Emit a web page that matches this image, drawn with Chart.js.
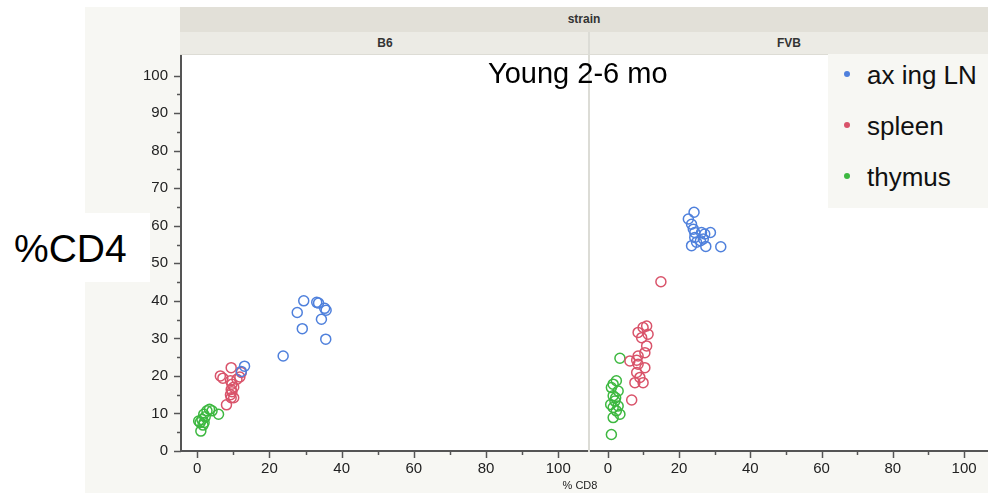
<!DOCTYPE html>
<html>
<head>
<meta charset="utf-8">
<script src="https://cdn.jsdelivr.net/npm/chart.js@4.4.1/dist/chart.umd.min.js"></script>
<style>
  html, body { margin: 0; padding: 0; background: #fff; }
  body { width: 988px; height: 493px; position: relative; overflow: hidden; font-family: 'Liberation Sans', Arial, sans-serif; }
  .abs { position: absolute; }
  #frame { left: 85px; top: 7px; width: 903px; height: 486px; background: #f7f7f3; }
  #strainBar { left: 180px; top: 7px; width: 808px; height: 25px; background: #e2e0d8; font-size: 12px; font-weight: bold; color: #333; text-align: center; line-height: 25px; }
  #panelBar { left: 180px; top: 32px; width: 808px; height: 22px; background: #ecebe5; border-bottom: 1px solid #dddcd5; }
  .plab { top: 32px; height: 22px; line-height: 22px; font-size: 12px; font-weight: bold; color: #333; text-align: center; }
  #plot { left: 181px; top: 55px; width: 807px; height: 396px; background: #fff; }
  #sep { left: 588px; top: 32px; width: 2px; height: 420px; background: #dcdcd6; }
  canvas { position: absolute; }
  #title { left: 488px; top: 57px; font-size: 29px; color: #000; white-space: nowrap; }
  #ylab { left: 0; top: 213px; width: 150px; height: 69px; background: #fff; }
  #ylab span { position: absolute; left: 14px; top: 14px; font-size: 39px; color: #000; }
  #xlab { left: 540px; top: 479px; width: 80px; text-align: center; font-size: 11px; color: #222; }
  #legend { left: 828px; top: 54px; width: 160px; height: 154px; background: #f7f7f3; }
  .item { position: absolute; left: 16px; font-size: 26px; color: #111; white-space: nowrap; }
  .dot { display: inline-block; width: 6px; height: 6px; border-radius: 3px; margin-right: 17px; vertical-align: middle; position: relative; top: -3px; }
</style>
</head>
<body>
<div class="abs" id="frame"></div>
<div class="abs" id="strainBar">strain</div>
<div class="abs" id="panelBar"></div>
<div class="abs plab" style="left:181px;width:408px;">B6</div>
<div class="abs plab" style="left:590px;width:398px;">FVB</div>
<div class="abs" id="plot"></div>
<canvas id="b6" width="505" height="438" style="left:85px;top:55px;"></canvas>
<canvas id="fvb" width="398" height="438" style="left:590px;top:55px;"></canvas>
<div class="abs" id="sep"></div>
<div class="abs" id="title">Young 2-6 mo</div>
<div class="abs" id="ylab"><span>%CD4</span></div>
<div class="abs" id="xlab">% CD8</div>
<div class="abs" id="legend">
  <div class="item" style="top:6px;"><span class="dot" style="background:#4f80dc"></span>ax ing LN</div>
  <div class="item" style="top:57px;"><span class="dot" style="background:#d9536a"></span>spleen</div>
  <div class="item" style="top:108px;"><span class="dot" style="background:#3db840"></span>thymus</div>
</div>
<script>
var tissues = ['ax ing LN', 'spleen', 'thymus'];
var colors = ['#4f80dc', '#d9536a', '#3db840'];

var xTicks = [0, 20, 40, 60, 80, 100];
var yTicks = [0, 10, 20, 30, 40, 50, 60, 70, 80, 90, 100];

// B6 strain, [%CD8, %CD4]
var b6Ln = [[29.5, 40], [27.7, 36.9], [33.1, 39.6], [33.6, 39.4], [35.3, 38.0], [35.7, 37.5],
  [34.4, 35.1], [29.1, 32.6], [35.6, 29.8], [23.8, 25.3], [13.1, 22.6], [12.2, 21.2]];
var b6Spleen = [[6.4, 20], [7.1, 19.4], [9.4, 22.2], [9.2, 18.7], [9.6, 17.8], [9.4, 16.4],
  [9.6, 15.8], [9.4, 14.2], [10.1, 14.2], [8.1, 12.3], [11.8, 19.7], [12.2, 20.9],
  [11, 19.1], [10.1, 17], [9.2, 15]];
var b6Thymus = [[1.0, 5.3], [0.8, 7.6], [1.3, 8.4], [1.8, 9.8], [2.7, 10.7], [3.4, 11.1],
  [4.1, 10.7], [5.9, 9.8], [1.9, 7.6], [0.4, 8], [2.2, 9.1], [1.6, 6.9]];

// FVB strain
var fvbLn = [[24.2, 63.6], [22.6, 61.8], [23.5, 60.4], [24.0, 59.1], [24.4, 58.2], [26.3, 58.2],
  [27.2, 57.8], [28.8, 58.2], [23.5, 54.7], [24.9, 55.6], [26.0, 56], [27.5, 54.5],
  [31.7, 54.4], [24.4, 56.9], [26.8, 56.5]];
var fvbSpleen = [[14.9, 45.1], [9.9, 32.9], [10.9, 33.3], [8.5, 31.6], [11.3, 31.1], [9.5, 30.2],
  [10.9, 28], [10.4, 26.2], [8.5, 25.3], [6.2, 24], [8.5, 23.1], [10.4, 22.2],
  [8.1, 20.9], [9, 19.6], [7.6, 18.2], [9.9, 18.2], [6.7, 13.6], [8.1, 24.2]];
var fvbThymus = [[3.4, 24.7], [2.4, 18.7], [1.5, 17.8], [1.0, 16.9], [2.9, 16], [1.5, 14.7],
  [2.0, 13.3], [2.9, 12], [1.5, 11.6], [2.4, 10.7], [3.4, 9.8], [1.5, 8.9],
  [1.0, 4.4], [2.2, 14.2], [0.8, 12.4]];

function toPoints(arr) {
  return arr.map(function(p) { return {x: p[0], y: p[1]}; });
}

function makeSets(groups) {
  return groups.map(function(g, i) {
    return {
      label: tissues[i],
      data: toPoints(g),
      borderColor: colors[i],
      backgroundColor: 'rgba(0,0,0,0)',
      pointRadius: 5,
      pointBorderWidth: 1.5,
      pointHoverRadius: 5
    };
  });
}

// minor and major tick marks, JMP style
var tickMarks = {
  id: 'tickMarks',
  afterDraw: function(chart) {
    var ctx = chart.ctx;
    ctx.save();
    ctx.strokeStyle = '#555';
    ctx.lineWidth = 1.5;
    var xs = chart.scales.x;
    for (var v = 0; v <= 100; v += 10) {
      var px = Math.round(xs.getPixelForValue(v)) + 0.5;
      var len = v % 20 === 0 ? 7 : 4;
      ctx.beginPath();
      ctx.moveTo(px, xs.top);
      ctx.lineTo(px, xs.top + len);
      ctx.stroke();
    }
    var ys = chart.scales.y;
    if (ys.options.display) {
      for (var w = 0; w <= 100; w += 5) {
        var py = Math.round(ys.getPixelForValue(w)) + 0.5;
        var l2 = w % 10 === 0 ? 7 : 4;
        ctx.beginPath();
        ctx.moveTo(ys.right, py);
        ctx.lineTo(ys.right - l2, py);
        ctx.stroke();
      }
    }
    ctx.restore();
  }
};

function makeChart(id, groups, xmin, xmax, showY) {
  return new Chart(document.getElementById(id).getContext('2d'), {
    type: 'scatter',
    data: { datasets: makeSets(groups) },
    plugins: [tickMarks],
    options: {
      responsive: false,
      animation: false,
      layout: { padding: 0, autoPadding: false },
      plugins: { legend: { display: false }, tooltip: { enabled: false } },
      scales: {
        x: {
          type: 'linear',
          min: xmin,
          max: xmax,
          afterBuildTicks: function(s) { s.ticks = xTicks.map(function(v) { return {value: v}; }); },
          afterFit: function(s) { s.height = 42; s.paddingLeft = 0; s.paddingRight = 0; },
          grid: { display: false, drawTicks: false },
          border: { display: true, color: '#555', width: 2 },
          ticks: { padding: 9, color: '#222', font: { family: 'Liberation Sans', size: 15 } }
        },
        y: {
          type: 'linear',
          display: showY,
          min: 0,
          max: 105.5,
          afterBuildTicks: function(s) { s.ticks = yTicks.map(function(v) { return {value: v}; }); },
          afterFit: function(s) { s.width = showY ? 96 : 0; s.paddingTop = 0; s.paddingBottom = 0; },
          grid: { display: false, drawTicks: false },
          border: { display: true, color: '#555', width: 2 },
          ticks: { padding: 13, color: '#222', font: { family: 'Liberation Sans', size: 15 } }
        }
      }
    }
  });
}

makeChart('b6', [b6Ln, b6Spleen, b6Thymus], -4.5, 108.8, true);
makeChart('fvb', [fvbLn, fvbSpleen, fvbThymus], -5, 106.7, false);
</script>
</body>
</html>
